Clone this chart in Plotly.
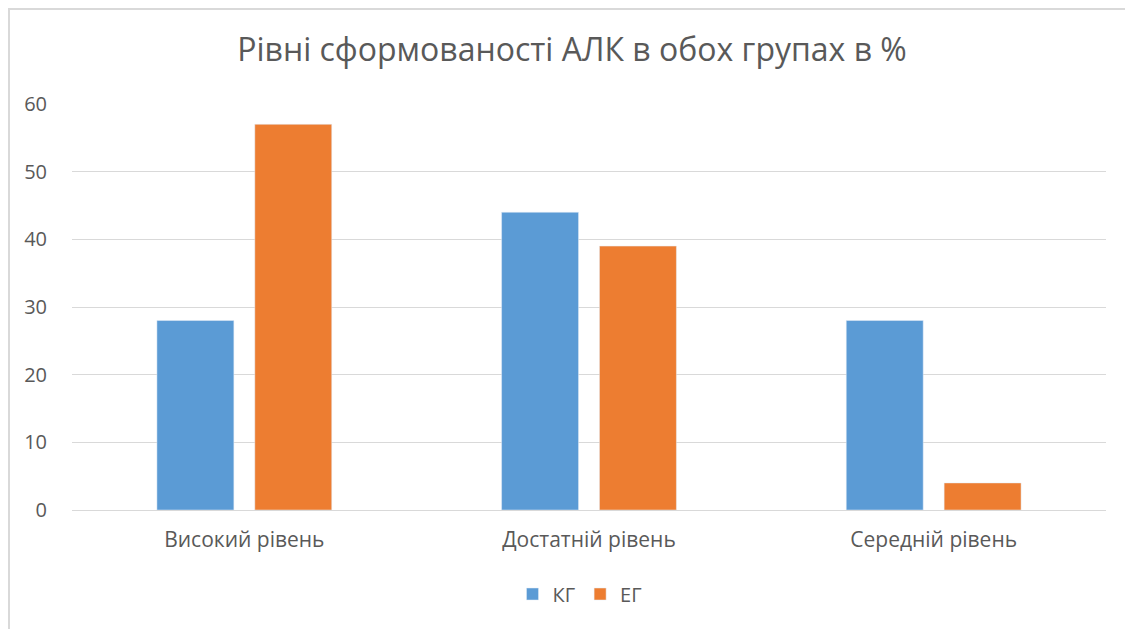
import plotly.graph_objects as go

categories = ["Високий рівень", "Достатній рівень", "Середній рівень"]
kg_values = [28, 44, 28]
eg_values = [57, 39, 4]
series_names = ["КГ", "ЕГ"]
title_text = "Рівні сформованості АЛК в обох групах в %"

# page has an 8px body margin; figure coords = page coords - 8
OFF = 8
W, H = 1133 - OFF, 629 - OFF
ml, mr, mt, mb = 72 - OFF, 1133 - 1106, 104 - OFF, 629 - 510
pw, ph = W - ml - mr, H - mt - mb

font_family = "Open Sans, Noto Sans, sans-serif"
txt = "#595959"

fig = go.Figure()
fig.add_trace(go.Bar(x=categories, y=kg_values, name=series_names[0], marker_color="#5B9BD5"))
fig.add_trace(go.Bar(x=categories, y=eg_values, name=series_names[1], marker_color="#ED7D31"))

fig.update_layout(
    width=W, height=H,
    margin=dict(l=ml, r=mr, t=mt, b=mb),
    paper_bgcolor="white", plot_bgcolor="white",
    barmode="group", bargap=0.432, bargroupgap=0.214,
    title=dict(text=title_text, x=(572 - OFF) / W, xanchor="center", y=1 - (50 - OFF) / H, yanchor="middle",
               yref="container", font=dict(family=font_family, size=32, color=txt)),
    font=dict(family=font_family, color=txt),
    showlegend=True,
    legend=dict(orientation="h", x=(580 - OFF - ml) / pw, xanchor="center", y=-(594 - 510) / ph, yanchor="middle",
                font=dict(size=20, color=txt), itemwidth=30, traceorder="normal"),
    xaxis=dict(showgrid=False, showline=False, ticks="", tickfont=dict(size=21, color=txt),
               ticklabelstandoff=15),
    yaxis=dict(range=[0, 60], dtick=10, showgrid=True, gridcolor="#D9D9D9", gridwidth=1,
               zeroline=True, zerolinecolor="#D9D9D9", zerolinewidth=1, showline=False,
               ticks="", tickfont=dict(size=20, color=txt), ticklabelstandoff=24),
    shapes=[dict(type="rect", xref="paper", yref="paper",
                 x0=(1 - ml) / pw, x1=(W + 20 - ml) / pw,
                 y0=-(H + 20 - mt - ph) / ph, y1=1 + (mt - 1) / ph,
                 line=dict(color="#D9D9D9", width=2), fillcolor="rgba(0,0,0,0)", layer="below")],
)

fig.write_html("out.html")
